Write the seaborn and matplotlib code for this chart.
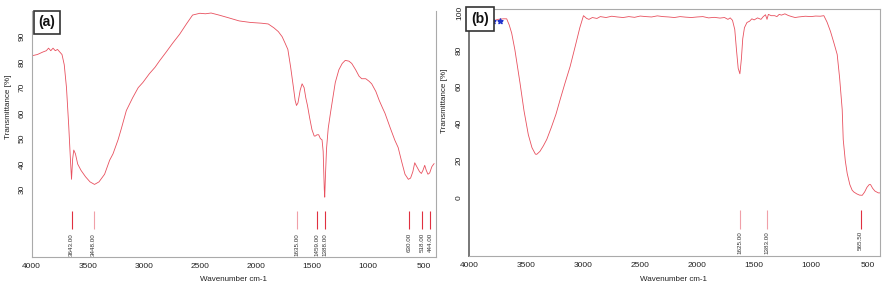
import matplotlib
matplotlib.use("Agg")
import matplotlib.pyplot as plt
import numpy as np
import pandas as pd
import seaborn as sns

# ===== Спектр (a) =====
wn_a = [4000, 3950, 3900, 3870, 3850, 3830, 3810, 3790, 3770, 3750, 3730, 3710, 3690, 3670,
        3655, 3645, 3635, 3625, 3610, 3590, 3560, 3520, 3480, 3440, 3400, 3350, 3305, 3275,
        3230, 3200, 3156, 3100, 3050, 3009, 2950, 2900, 2860, 2800, 2742, 2680, 2620, 2565,
        2500, 2450, 2400, 2330, 2250, 2150, 2050, 1950, 1890, 1840, 1800, 1766, 1740, 1715,
        1690, 1665, 1650, 1638, 1625, 1605, 1588, 1570, 1555, 1540, 1520, 1500, 1480, 1470,
        1455, 1440, 1425, 1410, 1400, 1390, 1386, 1380, 1370, 1355, 1335, 1310, 1292, 1260,
        1230, 1203, 1170, 1145, 1110, 1080, 1056, 1020, 990, 967, 930, 900, 870, 849, 800,
        760, 731, 700, 670, 640, 620, 600, 583, 565, 540, 524, 510, 494, 480, 465, 450, 430, 410]
t_a = [82.5, 83, 84, 84.5, 85.5, 84.5, 85.5, 84.5, 85, 84, 83, 79, 70, 55,
       42, 34, 42, 45.5, 44, 40, 37.5, 35, 33, 32, 33, 36, 41.5, 44,
       49.5, 54, 61, 66, 70, 72, 75.5, 78, 80.5, 84, 87.5, 91, 95, 98.5,
       99.2, 99, 99.3, 98.5, 97.5, 96.2, 95.6, 95.3, 95, 93.5, 92, 90, 87.5, 85,
       78, 70, 65, 63, 64, 69, 71.5, 70, 66, 63, 58, 53.5, 51, 51,
       51.5, 51.5, 50, 49.5, 45, 30, 27, 35, 46, 54, 60, 67, 72, 77,
       79.5, 80.7, 80.4, 79.5, 77, 74.5, 73.5, 73.5, 72.5, 71.5, 68.5, 65, 62, 60, 54,
       49.3, 46.5, 41, 36, 34, 34.5, 37, 40.5, 39, 37, 36.3, 37.5, 39.5, 37.5, 36, 36.5, 39, 40.2]
peaks_a = [3643.00, 3448.00, 1635.00, 1459.00, 1388.00, 630.00, 518.00, 444.00]
peak_col_a = ["#e03040", "#f0a0a8", "#f0a0a8", "#e03040", "#e03040", "#e03040", "#e03040", "#e03040"]

# ===== Спектр (b) =====
wn_b = [4000, 3950, 3900, 3850, 3800, 3750, 3700, 3672, 3650, 3628, 3600, 3580, 3555, 3520,
        3482, 3450, 3420, 3408, 3380, 3350, 3320, 3280, 3240, 3203, 3160, 3115, 3070, 3030,
        2998, 2970, 2950, 2920, 2880, 2850, 2800, 2750, 2700, 2650, 2600, 2550, 2500, 2450,
        2400, 2350, 2300, 2250, 2200, 2150, 2100, 2050, 2000, 1950, 1900, 1850, 1800, 1760,
        1730, 1710, 1690, 1670, 1655, 1640, 1625, 1612, 1600, 1585, 1563, 1540, 1520, 1500,
        1470, 1440, 1420, 1400, 1387, 1375, 1350, 1320, 1300, 1280, 1260, 1230, 1200, 1170,
        1140, 1110, 1080, 1050, 1000, 960, 920, 888, 860, 830, 800, 771, 750, 727, 718, 700,
        683, 660, 640, 625, 600, 575, 551, 530, 510, 490, 478, 460, 440, 410, 391]
t_b = [95.5, 95, 95.5, 96, 95.5, 96.5, 96.8, 96.8, 93.5, 89, 80, 72, 62, 47,
       34, 27, 23.5, 23.4, 25, 28, 31.5, 38, 45, 53, 62, 71, 82, 92,
       98.5, 97, 96.5, 97.5, 97, 98, 97.5, 98.2, 97.8, 97.5, 98, 97.6, 98.3, 98,
       97.8, 98.4, 98, 97.8, 97.5, 98, 97.7, 97.5, 97.8, 98, 97.3, 97.6, 97.2, 97.5,
       96.5, 97.3, 96, 91, 80, 70, 67, 75, 86, 92, 94.8, 95.5, 96.8, 96.2,
       97.3, 96.5, 98, 99, 96.5, 99.2, 98.5, 98.5, 98, 99.2, 98.8, 99.5, 98.6, 98,
       97.5, 97.8, 98, 98.2, 98, 98.3, 98.2, 98.5, 95, 90, 83.8, 77.5, 65, 47.7, 31.4, 20,
       13, 7, 4, 3, 2, 1.3, 1.2, 3, 5.5, 7, 7, 5, 3.5, 2.5, 2.5]
peaks_b = [1625.00, 1383.00, 565.50]
peak_col_b = ["#f0a0a8", "#f0a0a8", "#e03040"]
marker_wn_b = [3906, 3790, 3730]
marker_t_b = [95.5, 95.5, 95.5]

sns.set_theme(style="white")
plt.rcParams["font.family"] = ["Liberation Sans", "DejaVu Sans"]

fig = plt.figure(figsize=(8.84, 2.88), dpi=100)
ax_a = fig.add_axes([0.0359, 0.1076, 0.4571, 0.8534])
ax_b = fig.add_axes([0.5309, 0.111, 0.4646, 0.857])

line_col = "#e8505e"
grey = "#888888"


def draw_panel(ax, wn, t, peaks, peak_cols, ylim, yticks, line_y, lab_y):
    df = pd.DataFrame({"wn": wn, "t": t})
    sns.lineplot(data=df, x="wn", y="t", ax=ax, color=line_col, lw=0.6, sort=False)
    ax.set_xlim(4000, 395)
    ax.set_ylim(*ylim)
    ax.set_xticks([4000, 3500, 3000, 2500, 2000, 1500, 1000, 500])
    ax.set_yticks(yticks)
    ax.set_xlabel("")
    ax.set_ylabel("")
    ax.tick_params(axis="both", direction="out", length=3, width=0.6, color=grey,
                   labelsize=6, labelcolor="#222222", pad=1.5)
    for lab in ax.get_yticklabels():
        lab.set_rotation(90)
        lab.set_va("center")
    # Пики
    ax.vlines(peaks, line_y[0], line_y[1], colors=peak_cols, lw=0.8)
    for p in peaks:
        ax.text(p, lab_y, f"{p:.2f}", rotation=90, ha="center", va="top",
                fontsize=4.5, color="#333333")
    for s in ax.spines.values():
        s.set_color("#aaaaaa")
        s.set_linewidth(0.8)


draw_panel(ax_a, wn_a, t_a, peaks_a, peak_col_a, (3.5, 100), [30, 40, 50, 60, 70, 80, 90],
           (14.4, 21.5), 12.9)
ax_a.spines["top"].set_visible(False)

draw_panel(ax_b, wn_b, t_b, peaks_b, peak_col_b, (-31.7, 102), [0, 20, 40, 60, 80, 100],
           (-16.8, -6.9), -18.2)
ax_b.spines["left"].set_color("#777777")
ax_b.spines["left"].set_linewidth(1.4)
ax_b.scatter(marker_wn_b, marker_t_b, color="#2233cc", marker="*", s=14, zorder=3)

# Подписи осей
for x, y in [(0.0095, 0.63), (0.503, 0.65)]:
    fig.text(x, y, "Transmittance [%]", rotation=90, ha="center", va="center",
             fontsize=5.8, color="#222222")
for x in [0.264, 0.762]:
    fig.text(x, 0.018, "Wavenumber cm-1", ha="center", va="bottom",
             fontsize=5.8, color="#222222")

# Метки панелей
for x, y, lab in [(0.053, 0.922, "(a)"), (0.543, 0.934, "(b)")]:
    fig.text(x, y, lab, ha="center", va="center", fontsize=10, fontweight="bold",
             color="#111111", zorder=10,
             bbox=dict(boxstyle="square,pad=0.35", fc="white", ec="#333333", lw=1.2))

fig.savefig("out.png", dpi=100)
plt.close(fig)
